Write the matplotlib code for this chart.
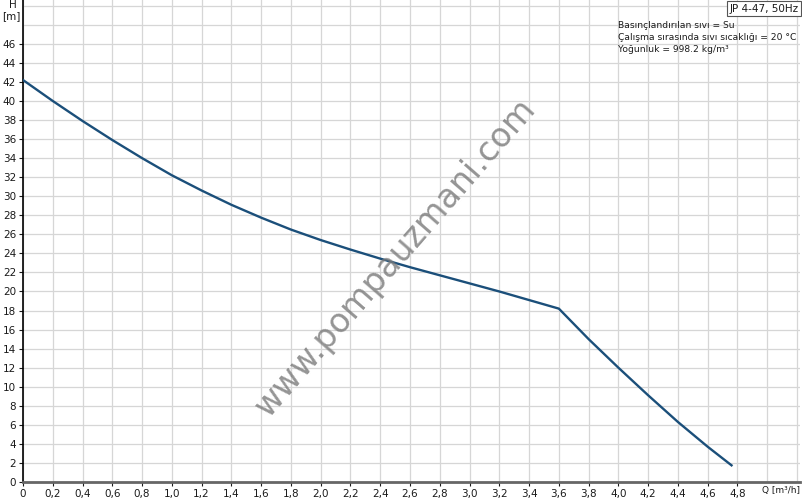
import matplotlib.pyplot as plt
import numpy as np

# pump curve JP 4-47, 50Hz
q = [0.0, 0.2, 0.4, 0.6, 0.8, 1.0, 1.2, 1.4, 1.6, 1.8, 2.0, 2.2, 2.4, 2.6, 2.8,
     3.0, 3.2, 3.4, 3.6, 3.7, 3.8, 3.9, 4.0, 4.1, 4.2, 4.3, 4.4, 4.5, 4.6, 4.76]
h = [42.2, 40.0, 37.9, 35.9, 34.0, 32.2, 30.6, 29.1, 27.75, 26.5, 25.4, 24.4,
     23.45, 22.55, 21.7, 20.85, 20.0, 19.1, 18.2, 16.6, 15.0, 13.5, 12.0, 10.55,
     9.1, 7.7, 6.3, 5.0, 3.7, 1.75]

xticks = np.round(np.arange(0, 4.81, 0.2), 1)
xlabels = ['0'] + [f'{v:.1f}'.replace('.', ',') for v in xticks[1:]]
yticks = list(range(0, 47, 2))

info = ['Basınçlandırılan sıvı = Su',
        'Çalışma sırasında sıvı sıcaklığı = 20 °C',
        'Yoğunluk = 998.2 kg/m³']

fig = plt.figure(figsize=(8.03, 5.0), dpi=100)
ax = fig.add_axes([23 / 803, 18 / 500, 777 / 803, 482 / 500])

ax.set_xlim(0, 5.22)
ax.set_ylim(0, 50.6)

ax.set_xticks(xticks)
ax.set_xticklabels(xlabels)
ax.set_yticks(yticks)
# grid also above the labelled range
ax.set_xticks([5.0, 5.2], minor=True)
ax.set_yticks([48, 50], minor=True)
ax.grid(which='both', color='#d6d6d6', linewidth=0.9)
ax.set_axisbelow(True)

ax.tick_params(which='major', labelsize=7.5, colors='#1a1a1a', length=3, width=0.8, pad=2)
ax.tick_params(which='minor', length=0)

for s in ['top', 'right']:
    ax.spines[s].set_visible(False)
ax.spines['left'].set_color('black')
ax.spines['left'].set_linewidth(1.2)
ax.spines['bottom'].set_color('#666666')
ax.spines['bottom'].set_linewidth(2)

ax.plot(q, h, color='#1b4f7a', linewidth=1.7, zorder=3)

# axis unit labels
fig.text(762 / 803, 1 - 491 / 500, 'Q [m³/h]', fontsize=6.5, color='#1a1a1a',
         ha='left', va='center')
fig.text(13 / 803, 1 - 5 / 500, 'H', fontsize=7.5, color='#1a1a1a', ha='center', va='center')
fig.text(11 / 803, 1 - 16 / 500, '[m]', fontsize=7.5, color='#1a1a1a', ha='center', va='center')

# header box and info text
fig.text(0.9945, 0.993, 'JP 4-47, 50Hz', fontsize=7.5, color='#1a1a1a', ha='right', va='top',
         bbox=dict(boxstyle='square,pad=0.25', facecolor='white', edgecolor='#555555', linewidth=0.8))
for i, line in enumerate(info):
    fig.text(618 / 803, 1 - (26 + 12 * i) / 500, line, fontsize=6.6, color='#1a1a1a',
             ha='left', va='center')

# watermark
fig.text(395 / 803, 1 - 258 / 500, 'www.pompauzmani.com', fontsize=24, color='#7a7a7a',
         alpha=0.8, rotation=49, ha='center', va='center', zorder=5)

fig.savefig('out.png', dpi=100)
